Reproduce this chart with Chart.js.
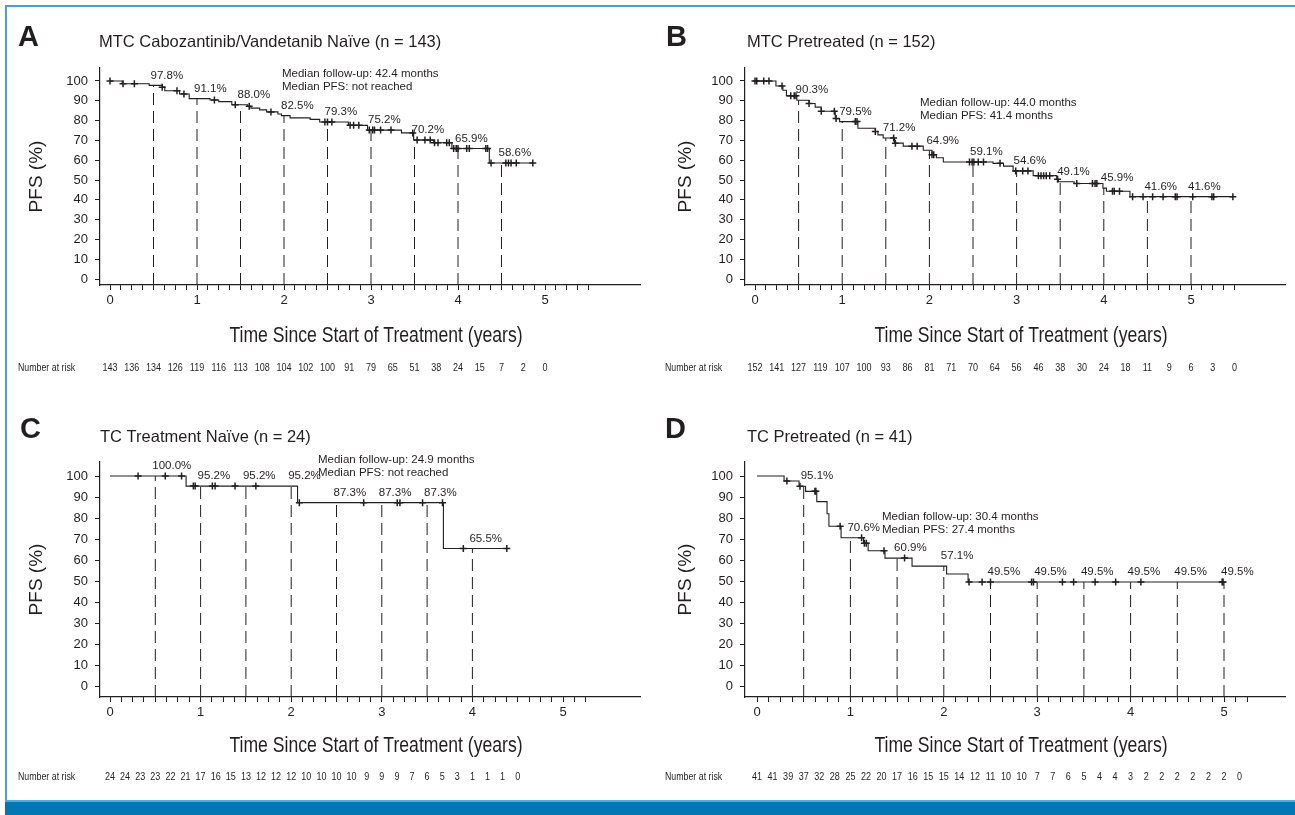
<!DOCTYPE html>
<html>
<head>
<meta charset="utf-8">
<script src="https://cdn.jsdelivr.net/npm/chart.js@4.4.1/dist/chart.umd.min.js"></script>
<style>
  body { margin: 0; background: #fff; width: 1295px; height: 815px; position: relative; overflow: hidden; }
  canvas { position: absolute; }
  .rule-top { position: absolute; left: 5px; top: 5px; right: 0; height: 2px; background: #4a9fd6; z-index: 2; }
  .rule-left { position: absolute; left: 5px; top: 5px; width: 2px; bottom: 0; background: #4a9fd6; z-index: 2; }
  .bar { position: absolute; left: 5px; right: 0; top: 800px; bottom: 0; background: #0077b5; border-top: 2px solid #5aa9dc; z-index: 2; }
</style>
</head>
<body>
<div class="rule-top"></div>
<div class="rule-left"></div>
<div class="bar"></div>
<script>
// ---- A: MTC cabozantinib/vandetanib naive ----
const aStepT = [0, 0.14, 0.45, 0.6, 0.63, 0.8, 0.91, 1.15, 1.25, 1.4, 1.58, 1.62, 1.72, 1.8, 1.93, 1.97, 2.07, 2.3, 2.41, 2.74, 2.96, 3.35, 3.49, 3.72, 3.93, 4.36, 4.86];
const aStepS = [100, 98.6, 97.8, 96.9, 95.1, 93.4, 91.1, 90.4, 89.6, 88.0, 87.2, 86.3, 85.4, 84.4, 83.3, 82.5, 81.4, 80.6, 79.3, 77.6, 75.2, 73.8, 70.2, 68.8, 65.9, 58.6, 58.6];
const aCensorT = [0, 0.15, 0.28, 0.6, 0.77, 0.85, 1.2, 1.44, 1.6, 1.85, 2.47, 2.5, 2.55, 2.76, 2.8, 2.86, 2.98, 3.02, 3.04, 3.11, 3.23, 3.48, 3.53, 3.62, 3.68, 3.73, 3.77, 3.87, 3.9, 3.95, 3.98, 4.0, 4.1, 4.13, 4.32, 4.34, 4.38, 4.55, 4.58, 4.61, 4.67, 4.86];
const aMarkT = [0.5, 1, 1.5, 2, 2.5, 3, 3.5, 4, 4.5];
const aMarkS = [97.8, 91.1, 88.0, 82.5, 79.3, 75.2, 70.2, 65.9, 58.6];
const aRisk = [143, 136, 134, 126, 119, 116, 113, 108, 104, 102, 100, 91, 79, 65, 51, 38, 24, 15, 7, 2, 0];

// ---- B: MTC pretreated ----
const bStepT = [0, 0.24, 0.32, 0.36, 0.48, 0.62, 0.69, 0.76, 0.92, 0.97, 1.18, 1.38, 1.41, 1.47, 1.6, 1.7, 1.93, 2.03, 2.08, 2.16, 2.73, 2.85, 2.96, 3.19, 3.46, 3.48, 3.66, 3.99, 4.03, 4.3, 5.48];
const bStepS = [100, 97.5, 95.3, 92.5, 90.3, 88.6, 86.8, 84.7, 81.0, 79.5, 76.1, 74.5, 72.8, 71.2, 68.6, 67.1, 65.0, 62.8, 61.2, 59.1, 58.4, 57.0, 54.6, 52.2, 50.4, 49.1, 48.2, 45.9, 44.3, 41.6, 41.6];
const bCensorT = [0, 0.02, 0.1, 0.16, 0.31, 0.41, 0.45, 0.47, 0.62, 0.76, 0.91, 0.93, 1.15, 1.17, 1.38, 1.59, 1.61, 1.8, 1.86, 2.03, 2.05, 2.46, 2.49, 2.51, 2.56, 2.62, 2.81, 2.99, 3.07, 3.13, 3.25, 3.28, 3.31, 3.34, 3.38, 3.47, 3.69, 3.87, 3.9, 3.92, 4.1, 4.12, 4.18, 4.33, 4.45, 4.56, 4.68, 4.82, 4.84, 5.02, 5.24, 5.26, 5.48];
const bMarkT = [0.5, 1, 1.5, 2, 2.5, 3, 3.5, 4, 4.5, 5];
const bMarkS = [90.3, 79.5, 71.2, 64.9, 59.1, 54.6, 49.1, 45.9, 41.6, 41.6];
const bRisk = [152, 141, 127, 119, 107, 100, 93, 86, 81, 71, 70, 64, 56, 46, 38, 30, 24, 18, 11, 9, 6, 3, 0];

// ---- C: TC treatment naive ----
const cStepT = [0, 0.84, 2.07, 3.68, 4.38];
const cStepS = [100, 95.2, 87.3, 65.5, 65.5];
const cCensorT = [0.31, 0.61, 0.79, 0.92, 0.94, 1.13, 1.16, 1.38, 1.61, 2.09, 2.8, 3.17, 3.2, 3.45, 3.67, 3.9, 4.38];
const cMarkT = [0.5, 1, 1.5, 2, 2.5, 3, 3.5, 4];
const cMarkS = [100.0, 95.2, 95.2, 95.2, 87.3, 87.3, 87.3, 65.5];
const cRisk = [24, 24, 23, 23, 22, 21, 17, 16, 15, 13, 12, 12, 12, 10, 10, 10, 10, 9, 9, 9, 7, 6, 5, 3, 1, 1, 1, 0];

// ---- D: TC pretreated ----
const dStepT = [0, 0.29, 0.45, 0.52, 0.64, 0.75, 0.77, 0.9, 1.14, 1.19, 1.37, 1.66, 2.03, 2.26, 4.99];
const dStepS = [100, 97.6, 95.1, 92.7, 87.8, 82.0, 76.1, 70.6, 68.0, 64.4, 60.9, 57.1, 53.3, 49.5, 49.5];
const dCensorT = [0.32, 0.46, 0.62, 0.63, 0.89, 1.12, 1.15, 1.17, 1.36, 1.58, 2.27, 2.41, 2.5, 2.94, 2.96, 3.27, 3.39, 3.62, 3.84, 4.11, 4.98, 4.99];
const dMarkT = [0.5, 1, 1.5, 2, 2.5, 3, 3.5, 4, 4.5, 5];
const dMarkS = [95.1, 70.6, 60.9, 57.1, 49.5, 49.5, 49.5, 49.5, 49.5, 49.5];
const dRisk = [41, 41, 39, 37, 32, 28, 25, 22, 20, 17, 16, 15, 15, 14, 12, 11, 10, 10, 7, 7, 6, 5, 4, 4, 3, 2, 2, 2, 2, 2, 2, 0];

const yTickVals = [0, 10, 20, 30, 40, 50, 60, 70, 80, 90, 100];

const INK = '#231f20';
const FONT = '"Liberation Sans", Arial, Helvetica, sans-serif';

function stepAt(T, S, t) {
  let v = S[0];
  for (let i = 0; i < T.length; i++) if (T[i] <= t) v = S[i];
  return v;
}

function condText(ctx, text, x, y, size, align, sx) {
  ctx.save();
  ctx.font = size + 'px ' + FONT;
  ctx.textAlign = align;
  ctx.textBaseline = 'middle';
  ctx.translate(x, y);
  ctx.scale(sx, 1);
  ctx.fillText(text, 0, 0);
  ctx.restore();
}

function makePanel(p) {
  const YW = 60, XH = 40;
  const b = p.box, a = p.area;
  const cv = document.createElement('canvas');
  cv.width = b.w; cv.height = b.h;
  cv.style.left = b.x + 'px'; cv.style.top = b.y + 'px';
  cv.style.width = b.w + 'px'; cv.style.height = b.h + 'px';
  document.body.appendChild(cv);

  const ppy = p.ppy, ppu = (p.y0 - p.y100) / 100;
  const xMin = (a.l - p.x0) / ppy, xMax = (a.r - p.x0) / ppy;
  const yMin = -(a.b - p.y0) / ppu, yMax = 100 + (p.y100 - a.t) / ppu;

  const curve = p.stepT.map((t, i) => ({ x: t, y: p.stepS[i] }));
  const cens = p.censorT.map(t => ({ x: t, y: stepAt(p.stepT, p.stepS, t) }));
  const dash = [];
  p.markT.forEach((t, i) => { dash.push({ x: t, y: yMin }, { x: t, y: p.markS[i] }, { x: t, y: null }); });

  const xTicks = [];
  for (let k = 0; k * p.minor <= p.tickEnd + 1e-9; k++) xTicks.push({ value: k * p.minor });

  const textPlugin = {
    id: 'panelText',
    afterDraw(chart) {
      const ctx = chart.ctx, xs = chart.scales.x, ys = chart.scales.y, ca = chart.chartArea;
      const ox = b.x, oy = b.y;
      ctx.save();
      ctx.fillStyle = INK;
      ctx.textAlign = 'left';
      ctx.textBaseline = 'middle';
      ctx.font = 'bold 29px ' + FONT;
      ctx.fillText(p.letter, p.letterPos[0] - ox, p.letterPos[1] - oy);
      ctx.font = '16.5px ' + FONT;
      ctx.fillText(p.title, p.titlePos[0] - ox, p.titlePos[1] - oy);
      ctx.font = '11.5px ' + FONT;
      p.notes.forEach((s, i) => ctx.fillText(s, p.notePos[0] - ox, p.notePos[1] - oy + i * 13));
      ctx.font = '11.5px ' + FONT;
      p.markT.forEach((t, i) => {
        ctx.fillText(p.markS[i].toFixed(1) + '%', xs.getPixelForValue(t) - 3, ys.getPixelForValue(p.markS[i]) - 10);
      });
      ctx.save();
      ctx.translate(p.yTitleX - ox, (ca.top + ca.bottom) / 2);
      ctx.rotate(-Math.PI / 2);
      ctx.textAlign = 'center';
      ctx.font = '19px ' + FONT;
      ctx.fillText('PFS (%)', 0, 0);
      ctx.restore();
      condText(ctx, 'Time Since Start of Treatment (years)', (ca.left + ca.right) / 2 + 6, p.xTitleY - oy, 22, 'center', 0.8);
      condText(ctx, 'Number at risk', p.riskLabelX - ox, p.riskY - oy, 11, 'left', 0.8);
      p.risk.forEach((n, i) => condText(ctx, String(n), xs.getPixelForValue(i * p.riskStep), p.riskY - oy, 11, 'center', 0.82));
      ctx.restore();
    }
  };

  new Chart(cv, {
    type: 'line',
    data: {
      datasets: [
        { data: curve, stepped: 'before', borderColor: INK, borderWidth: 1.1, pointRadius: 0, fill: false },
        { data: cens, showLine: false, pointStyle: 'cross', pointRadius: 3.5, pointBorderWidth: 1.5, pointBorderColor: INK, pointBackgroundColor: INK },
        { data: dash, borderColor: INK, borderWidth: 1, borderDash: [12, 6], pointRadius: 0, spanGaps: false, fill: false }
      ]
    },
    options: {
      responsive: false,
      animation: false,
      devicePixelRatio: 1,
      layout: { padding: { left: a.l - b.x - YW, top: a.t - b.y, right: b.x + b.w - a.r, bottom: b.y + b.h - a.b - XH } },
      plugins: { legend: { display: false }, tooltip: { enabled: false } },
      scales: {
        x: {
          type: 'linear', min: xMin, max: xMax,
          afterFit(s) { s.height = XH; },
          afterBuildTicks(s) { s.ticks = xTicks.map(t => ({ value: t.value })); },
          ticks: {
            autoSkip: false, maxRotation: 0, padding: 3, color: INK,
            font: { family: FONT, size: 13 },
            callback(v) { return Math.abs(v - Math.round(v)) < 1e-6 ? String(Math.round(v)) : ''; }
          },
          grid: { drawOnChartArea: false, tickLength: 5, color: INK, lineWidth: 1 },
          border: { color: INK, width: 1.2 }
        },
        y: {
          min: yMin, max: yMax,
          afterFit(s) { s.width = YW; },
          afterBuildTicks(s) { s.ticks = yTickVals.map(v => ({ value: v })); },
          ticks: { autoSkip: false, padding: 7, color: INK, font: { family: FONT, size: 13 } },
          grid: { drawOnChartArea: false, tickLength: 5, color: INK, lineWidth: 1 },
          border: { color: INK, width: 1.2 }
        }
      }
    },
    plugins: [textPlugin]
  });
}

makePanel({
  letter: 'A', title: 'MTC Cabozantinib/Vandetanib Naïve (n = 143)',
  notes: ['Median follow-up: 42.4 months', 'Median PFS: not reached'],
  box: { x: 0, y: 0, w: 647, h: 400 }, area: { l: 100, t: 68, r: 640, b: 285 },
  x0: 110, ppy: 87, y100: 81, y0: 279, minor: 0.125, tickEnd: 5.5,
  letterPos: [18, 38], titlePos: [99, 42], notePos: [282, 74],
  yTitleX: 37, xTitleY: 336, riskY: 368, riskLabelX: 18,
  stepT: aStepT, stepS: aStepS, censorT: aCensorT, markT: aMarkT, markS: aMarkS, risk: aRisk, riskStep: 0.25
});
makePanel({
  letter: 'B', title: 'MTC Pretreated (n = 152)',
  notes: ['Median follow-up: 44.0 months', 'Median PFS: 41.4 months'],
  box: { x: 647, y: 0, w: 648, h: 400 }, area: { l: 745, t: 68, r: 1285, b: 285 },
  x0: 755, ppy: 87.2, y100: 81, y0: 279, minor: 0.125, tickEnd: 5.5,
  letterPos: [666, 38], titlePos: [747, 42], notePos: [920, 103],
  yTitleX: 686, xTitleY: 336, riskY: 368, riskLabelX: 665,
  stepT: bStepT, stepS: bStepS, censorT: bCensorT, markT: bMarkT, markS: bMarkS, risk: bRisk, riskStep: 0.25
});
makePanel({
  letter: 'C', title: 'TC Treatment Naïve (n = 24)',
  notes: ['Median follow-up: 24.9 months', 'Median PFS: not reached'],
  box: { x: 0, y: 400, w: 647, h: 400 }, area: { l: 100, t: 462, r: 640, b: 697 },
  x0: 110, ppy: 90.6, y100: 476, y0: 686, minor: 0.125, tickEnd: 5.25,
  letterPos: [20, 430], titlePos: [100, 437], notePos: [318, 460],
  yTitleX: 37, xTitleY: 746, riskY: 777, riskLabelX: 18,
  stepT: cStepT, stepS: cStepS, censorT: cCensorT, markT: cMarkT, markS: cMarkS, risk: cRisk, riskStep: 1 / 6
});
makePanel({
  letter: 'D', title: 'TC Pretreated (n = 41)',
  notes: ['Median follow-up: 30.4 months', 'Median PFS: 27.4 months'],
  box: { x: 647, y: 400, w: 648, h: 400 }, area: { l: 745, t: 462, r: 1285, b: 697 },
  x0: 757, ppy: 93.4, y100: 476, y0: 686, minor: 0.125, tickEnd: 5.25,
  letterPos: [665, 430], titlePos: [747, 437], notePos: [882, 517],
  yTitleX: 686, xTitleY: 746, riskY: 777, riskLabelX: 665,
  stepT: dStepT, stepS: dStepS, censorT: dCensorT, markT: dMarkT, markS: dMarkS, risk: dRisk, riskStep: 1 / 6
});
</script>
</body>
</html>
